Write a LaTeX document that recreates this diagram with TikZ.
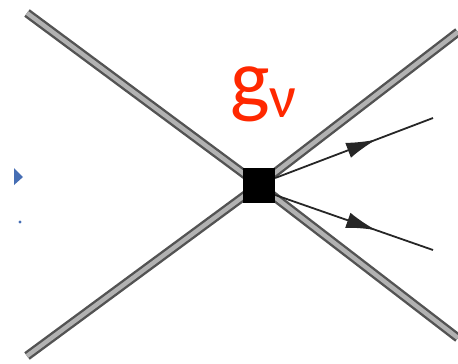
\documentclass[tikz,border=0pt]{standalone}
\usepackage{fontspec}
\usepackage{xcolor}
\usepackage{tikz}
\usetikzlibrary{arrows.meta, positioning, calc, decorations.markings}
\newfontfamily\labelfont{Carlito}
\definecolor{gred}{RGB}{255,40,0}
\definecolor{markblue}{RGB}{70,110,180}

\begin{document}
\begin{tikzpicture}[x=1pt, y=-1pt,
        boson/.style={draw=gray!65!black, line width=2.4pt, double=gray!60, double distance=4.4pt},
        vertex/.style={rectangle, fill=black, minimum width=32pt, minimum height=35pt, inner sep=0pt},
        fermion/.style={draw=black!85, line width=1.8pt,
            postaction={decorate, decoration={markings, mark=at position 0.64 with {\arrow{Latex[length=30pt, width=16pt]}}}}},
        coupling/.style={text=gred, inner sep=0pt, font=\labelfont\fontsize{84}{84}\selectfont}
    ]
        \useasboundingbox (0,0) rectangle (458,364);

        \coordinate (tl) at (27,13);
        \coordinate (br) at (458,338);
        \coordinate (bl) at (27,356);
        \coordinate (tr) at (458,32);
        \coordinate (up) at (433,118);
        \coordinate (dn) at (433,250);

        % Lines into the vertex
        \draw[boson] (tl) -- (259,185);
        \draw[boson] (259,185) -- (br);
        \draw[boson] (bl) -- (259,185);
        \draw[boson] (259,185) -- (tr);

        \node[vertex] (v) at (259,185) {};
        \node[coupling, anchor=base west] (g) at (230,107) {g\raisebox{-10pt}{\fontsize{60}{60}\selectfont ν}};

        % Connectors
        \draw[fermion] ([yshift=7pt]v.east) -- (up);
        \draw[fermion] ([yshift=-10pt]v.east) -- (dn);

        % marks at the left edge
        \fill[markblue] (14,168) -- (23,177) -- (14,185) -- cycle;
        \fill[markblue] (20,222) circle (1.6);

    \end{tikzpicture}
\end{document}
